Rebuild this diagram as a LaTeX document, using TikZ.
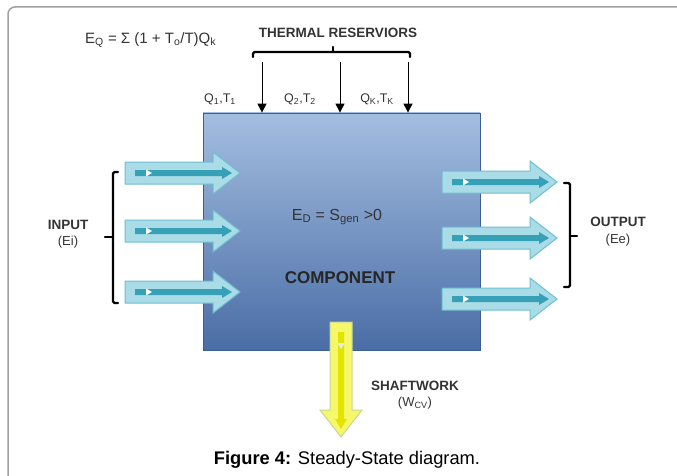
\documentclass[tikz,border=0pt]{standalone}
\usepackage{fontspec}
\setmainfont{Liberation Sans}
\usetikzlibrary{arrows.meta}
\definecolor{boxtop}{HTML}{A4BEE0}
\definecolor{boxbot}{HTML}{4A6DA6}
\definecolor{boxline}{HTML}{3F5F92}
\definecolor{cyfill}{HTML}{A9DCE7}
\definecolor{cyline}{HTML}{6DBFD1}
\definecolor{cyin}{HTML}{35A0B6}
\definecolor{yefill}{HTML}{F7F76A}
\definecolor{yeline}{HTML}{C5D69A}
\definecolor{yein}{HTML}{E3E300}
\definecolor{txt}{HTML}{333333}
\definecolor{framegray}{HTML}{A0A0A0}
\begin{document}
\begin{tikzpicture}[x=1pt,y=-1pt,
  lbl/.style={font=\fontsize{13.5}{15}\selectfont\bfseries, text=txt, inner sep=0},
  sublbl/.style={font=\fontsize{13}{15}\selectfont, text=txt, inner sep=0},
  qlbl/.style={font=\fontsize{12.5}{14}\selectfont, text=txt, inner sep=0},
  bracepath/.style={line width=2.4pt, line join=round, line cap=round, rounded corners=1.5pt, black},
  therm/.style={line width=1pt, -{Triangle[width=9pt,length=9pt]}},
  bafill/.style={fill=cyfill, draw=cyline, line width=1pt},
  bainner/.style={fill=cyin},
  bamark/.style={fill=white},
  bigarrow/.pic={
    \path[bafill] (0,-11) -- (88,-11) -- (88,-21) -- (115,0) -- (88,21) -- (88,11) -- (0,11) -- cycle;
    \path[bainner] (10,-3) -- (97,-3) -- (97,-6) -- (107,0) -- (97,6) -- (97,3) -- (10,3) -- cycle;
    \path[bamark] (21,-3.5) -- (27,0) -- (21,3.5) -- cycle;
  }]
\useasboundingbox (0,0) rectangle (677,476);
\clip (0,0) rectangle (677,476);
% frame
\draw[framegray, line width=1.5pt, rounded corners=7pt] (8,490) -- (8,7) -- (690,7);

% component box
\node[draw=boxline, line width=0.8pt, top color=boxtop, bottom color=boxbot,
      minimum width=277pt, minimum height=237pt, inner sep=0] (box) at (341.5,231.5) {};

% input arrows
\pic at (125,173) {bigarrow};
\pic at (125,231) {bigarrow};
\pic at (125,292) {bigarrow};
% output arrows
\pic at (442,182) {bigarrow};
\pic at (442,238) {bigarrow};
\pic at (442,299) {bigarrow};
% shaftwork arrow
\pic[rotate=-90, bafill/.style={fill=yefill, draw=yeline, line width=1pt},
     bainner/.style={fill=yein}, bamark/.style={fill=cyfill!40}] at (341,322) {bigarrow};

% texts in the box
\node[font=\fontsize{16}{19}\selectfont, text=txt, inner sep=0] (ed) at (337,217)
  {E\textsubscript{D} = S\textsubscript{gen} >0};
\node[font=\fontsize{17}{20}\selectfont\bfseries, text=black!85, inner sep=0] (comp) at (340,278) {COMPONENT};

% thermal reservoirs
\node[lbl] (thermal) at (338,33) {THERMAL RESERVIORS};
\draw[bracepath] (253,57) -- (253,52) -- (410,52) -- (410,57);
\draw[bracepath] (333,52) -- (333,47);
\coordinate (t1) at (262,62);
\coordinate (t2) at (340,62);
\coordinate (t3) at (408,62);
\draw[therm] (t1) -- (t1 |- box.north);
\draw[therm] (t2) -- (t2 |- box.north);
\draw[therm] (t3) -- (t3 |- box.north);
\node[qlbl] (q1) at (220,99) {Q\textsubscript{1},T\textsubscript{1}};
\node[qlbl] (q2) at (300,99) {Q\textsubscript{2},T\textsubscript{2}};
\node[qlbl] (qk) at (377,99) {Q\textsubscript{K},T\textsubscript{K}};

% formula
\node[font=\fontsize{15}{17}\selectfont, text=txt, inner sep=0, anchor=west] (eq) at (85,40)
  {E\textsubscript{Q} = Σ (1 + T\textsubscript{o}/T)Q\textsubscript{k}};

% input brace and label
\draw[bracepath] (118,172) -- (113,172) -- (113,303) -- (118,303);
\draw[bracepath] (113,237) -- (105,237);
\node[lbl] (input) at (68,225) {INPUT};
\node[sublbl] (ei) at (68,242) {(Ei)};

% output brace and label
\draw[bracepath] (564,183) -- (570,183) -- (570,287) -- (564,287);
\draw[bracepath] (570,236) -- (577,236);
\node[lbl] (output) at (618,222) {OUTPUT};
\node[sublbl] (ee) at (618,240) {(Ee)};

% shaftwork label
\node[lbl] (shaft) at (415,386) {SHAFTWORK};
\node[sublbl] (wcv) at (415,403) {(W\textsubscript{CV})};

% caption
\node[font=\fontsize{18.3}{21}\selectfont, inner sep=0] (cap) at (347,460)
  {\textbf{Figure 4:} Steady-State diagram.};
\end{tikzpicture}
\end{document}
